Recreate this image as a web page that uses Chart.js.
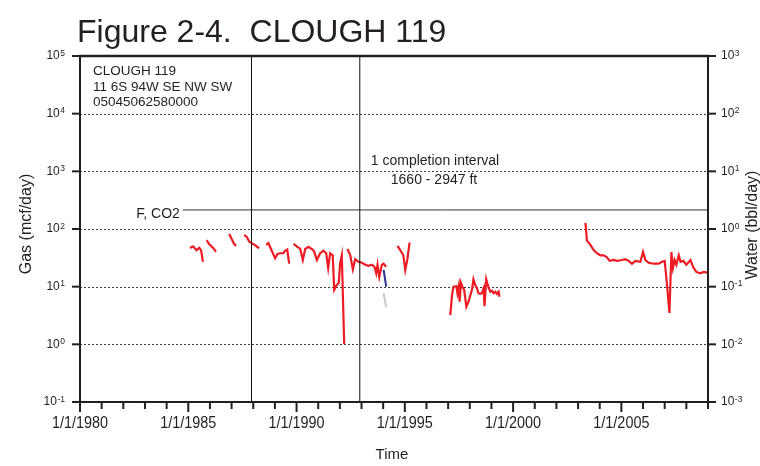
<!DOCTYPE html>
<html>
<head>
<meta charset="utf-8">
<script src="https://cdn.jsdelivr.net/npm/chart.js@4.4.0/dist/chart.umd.min.js"></script>
<style>
  body { margin: 0; background: #fff; }
  #wrap { width: 760px; height: 466px; }
</style>
</head>
<body>
<div id="wrap"><canvas id="chart" width="760" height="466"></canvas></div>
<script>
// gas production (mcf/day), null = gap between producing periods
const gasYears = [
  1985.08,1985.22,1985.38,1985.51,1985.59,1985.68, null,
  1985.85,1985.96,1986.15,1986.28, null,
  1986.89,1987.0,1987.12,1987.21, null,
  1987.58,1987.70,1987.82,1987.99,1988.13,1988.27, null,
  1988.60,1988.70,1988.81,1989.01,1989.12,1989.24,1989.39,1989.47,1989.57,1989.66, null,
  1989.86,1990.01,1990.17,1990.29,1990.40,1990.55,1990.71,1990.81,1990.94,1991.09,1991.24,1991.37,1991.46,1991.55,1991.67,1991.74,1991.86,1991.95,1992.01,1992.09,1992.20, null,
  1992.35,1992.48,1992.60,1992.71,1992.86,1993.02,1993.17,1993.32,1993.48,1993.60,1993.68,1993.74,1993.82,1993.94,1994.02,1994.14, null,
  1994.66,1994.79,1994.93,1995.02,1995.11,1995.22, null,
  1997.10,1997.18,1997.25,1997.38,1997.43,1997.49,1997.53,1997.59,1997.67,1997.74,1997.84,1997.94,1998.10,1998.17,1998.25,1998.33,1998.40,1998.48,1998.56,1998.64,1998.68,1998.76,1998.87,1998.95,1999.02,1999.10,1999.18,1999.25,1999.33,1999.37, null,
  2003.34,2003.41,2003.57,2003.72,2003.87,2004.03,2004.17,2004.31,2004.46,2004.64,2004.80,2005.03,2005.18,2005.34,2005.49,2005.65,2005.88,2006.0,2006.11,2006.26,2006.49,2006.72,2006.88,2007.0,2007.08,2007.22,2007.31,2007.38,2007.46,2007.54,2007.65,2007.73,2007.86,2008.0,2008.19,2008.31,2008.46,2008.65,2008.80,2008.96
]
const gasValues = [
  47,50,43,47,43,27, null,
  64,55,47,40, null,
  82,68,55,51, null,
  79,73,60,55,51,46, null,
  53,57,46,31,37,38,38,42,44,25, null,
  55,50,45,29,45,49,45,41,29,38,42,38,21,38,35,8.8,10.7,11.6,25,35,1.0, null,
  45,35,20,30,27,26,24,23,24,22,17,24,14.7,24,25,22, null,
  51,43,35,19.5,29,58, null,
  3.2,7.2,10,10.2,7.7,10.2,5.5,11.7,9.8,8.8,4.5,5.5,8.8,13.4,10.7,9.4,7.7,7.5,7.7,9.4,4.6,13.4,9.5,8.2,8.5,7.7,8.2,7.5,8.2,6.7, null,
  128,63,53,43,38,35,35,33,28,29,28,29,30,28,25,28,27,40,29,26,25,25,27,28,14,3.5,40,21,29,24,35,27,28,24,29,22,18,17,18,17.5
]

// water (bbl/day), right axis
const waterYears = [1994.02, 1994.08, 1994.14]
const waterValues = [0.195, 0.14, 0.10]

// grey series (left axis)
const greyYears = [1994.02, 1994.14]
const greyValues = [7.7, 4.4]

// completions / formation
const completionDates = [1987.92, 1992.92]
const formationStart = 1984.75
const formationLevel = 214

const xTickYears = [1980, 1985, 1990, 1995, 2000, 2005]
const gasExponents = [-1, 0, 1, 2, 3, 4, 5]
const waterExponents = [-3, -2, -1, 0, 1, 2, 3]

const FONT = '"Liberation Sans", Arial, sans-serif'
const INK = '#231f20'

function pts(xs, ys) {
    return xs.map((x, i) => ({ x: x, y: ys[i] }))
}

const vLines = []
completionDates.forEach((d, i) => {
    if (i > 0) vLines.push({ x: d, y: null })
    vLines.push({ x: d, y: 0.1 }, { x: d, y: 100000 })
})

function power(ctx, x, y, exp, align) {
    ctx.font = '12px ' + FONT
    const bw = ctx.measureText('10').width
    ctx.font = '8.5px ' + FONT
    const ew = ctx.measureText(String(exp)).width
    const x0 = align === 'right' ? x - bw - ew - 0.5 : x
    ctx.textAlign = 'left'
    ctx.textBaseline = 'middle'
    ctx.font = '12px ' + FONT
    ctx.fillText('10', x0, y)
    ctx.textBaseline = 'alphabetic'
    ctx.font = '8.5px ' + FONT
    ctx.fillText(String(exp), x0 + bw + 0.5, y - 0.5)
}

const decor = {
    id: 'decor',
    beforeDatasetsDraw(chart) {
        const { ctx, chartArea: a, scales } = chart
        const gy = scales.y
        ctx.save()
        ctx.strokeStyle = '#3a3a3a'
        ctx.lineWidth = 1
        ctx.setLineDash([2, 2])
        gasExponents.slice(1, -1).forEach(e => {
            const py = Math.round(gy.getPixelForValue(Math.pow(10, e))) + 0.5
            ctx.beginPath(); ctx.moveTo(a.left, py); ctx.lineTo(a.right, py); ctx.stroke()
        })
        ctx.restore()
    },
    afterDatasetsDraw(chart) {
        const { ctx, chartArea: a, scales } = chart
        const x = scales.x, gy = scales.y, wy = scales.water
        ctx.save()
        ctx.fillStyle = INK
        ctx.strokeStyle = INK

        // frame
        ctx.lineWidth = 2
        ctx.beginPath()
        ctx.moveTo(a.left, a.bottom); ctx.lineTo(a.left, a.top)
        ctx.moveTo(a.right, a.bottom); ctx.lineTo(a.right, a.top)
        ctx.moveTo(a.left - 1, a.bottom); ctx.lineTo(a.right + 1, a.bottom)
        ctx.stroke()
        ctx.lineWidth = 2.5
        ctx.beginPath(); ctx.moveTo(a.left - 1, a.top); ctx.lineTo(a.right + 1, a.top); ctx.stroke()

        // y ticks
        ctx.lineWidth = 2
        gasExponents.forEach(e => {
            const py = gy.getPixelForValue(Math.pow(10, e))
            ctx.beginPath(); ctx.moveTo(a.left - 8, py); ctx.lineTo(a.left, py); ctx.stroke()
            power(ctx, a.left - 15, py, e, 'right')
        })
        waterExponents.forEach(e => {
            const py = wy.getPixelForValue(Math.pow(10, e))
            ctx.beginPath(); ctx.moveTo(a.right, py); ctx.lineTo(a.right + 8, py); ctx.stroke()
            power(ctx, a.right + 13, py, e, 'left')
        })

        // x ticks, every year, labelled every 5
        for (let yr = 1980; yr <= 2009; yr++) {
            const px = x.getPixelForValue(yr)
            const major = yr % 5 === 0
            ctx.lineWidth = 2
            ctx.beginPath(); ctx.moveTo(px, a.bottom); ctx.lineTo(px, a.bottom + (major ? 10 : 7)); ctx.stroke()
        }
        xTickYears.forEach(yr => {
            const px = x.getPixelForValue(yr)
            ctx.save()
            ctx.translate(px, a.bottom + 22)
            ctx.scale(0.9, 1)
            ctx.font = '16px ' + FONT
            ctx.textAlign = 'center'
            ctx.textBaseline = 'middle'
            ctx.fillText('1/1/' + yr, 0, 0)
            ctx.restore()
        })

        // axis titles
        ctx.font = '15px ' + FONT
        ctx.textAlign = 'center'
        ctx.textBaseline = 'middle'
        ctx.fillText('Time', 392, 455)
        ctx.font = '16px ' + FONT
        ctx.save(); ctx.translate(27, 224); ctx.rotate(-Math.PI / 2); ctx.fillText('Gas (mcf/day)', 0, 0); ctx.restore()
        ctx.save(); ctx.translate(753, 225); ctx.rotate(-Math.PI / 2); ctx.fillText('Water (bbl/day)', 0, 0); ctx.restore()

        // title
        ctx.textAlign = 'left'
        ctx.textBaseline = 'alphabetic'
        ctx.font = '32px ' + FONT
        ctx.fillText('Figure 2-4.  CLOUGH 119', 77, 42)

        // well info
        ctx.font = '13.5px ' + FONT
        ctx.fillText('CLOUGH 119', 93, 75)
        ctx.fillText('11 6S 94W SE NW SW', 93, 90.5)
        ctx.fillText('05045062580000', 93, 106)

        // completion + formation notes
        const cx = x.getPixelForValue(completionDates[1])
        ctx.font = '14px ' + FONT
        ctx.fillText('1 completion interval', cx + 11, 165)
        ctx.fillText('1660 - 2947 ft', cx + 31, 184)
        ctx.textAlign = 'right'
        ctx.fillText('F, CO2', x.getPixelForValue(formationStart) - 3, gy.getPixelForValue(formationLevel) + 8)
        ctx.restore()
    }
}

new Chart(document.getElementById('chart'), {
    type: 'line',
    data: {
        datasets: [
            { label: 'completions', data: vLines, borderColor: '#111', borderWidth: 1, pointRadius: 0, spanGaps: false, order: 0 },
            { label: 'formation', data: [{ x: formationStart, y: formationLevel }, { x: 2009, y: formationLevel }], borderColor: '#333', borderWidth: 1, pointRadius: 0, order: 0 },
            { label: 'Grey', data: pts(greyYears, greyValues), borderColor: '#c8c8c8', borderWidth: 2, pointRadius: 0, order: 1 },
            { label: 'Water', data: pts(waterYears, waterValues), yAxisID: 'water', borderColor: '#2e3192', borderWidth: 2, pointRadius: 0, order: 1 },
            { label: 'Gas', data: pts(gasYears, gasValues), borderColor: '#ed1c24', borderWidth: 2.2, pointRadius: 0, spanGaps: false, order: 2 }
        ]
    },
    options: {
        responsive: false,
        animation: false,
        layout: { padding: { left: 80, right: 52, top: 56, bottom: 64 } },
        plugins: { legend: { display: false }, tooltip: { enabled: false } },
        elements: { line: { tension: 0 } },
        scales: {
            x: { type: 'linear', min: 1980, max: 2009, display: false },
            y: { type: 'logarithmic', min: 0.1, max: 100000, display: false },
            water: { type: 'logarithmic', position: 'right', min: 0.001, max: 1000, display: false }
        }
    },
    plugins: [decor]
})
</script>
</body>
</html>
